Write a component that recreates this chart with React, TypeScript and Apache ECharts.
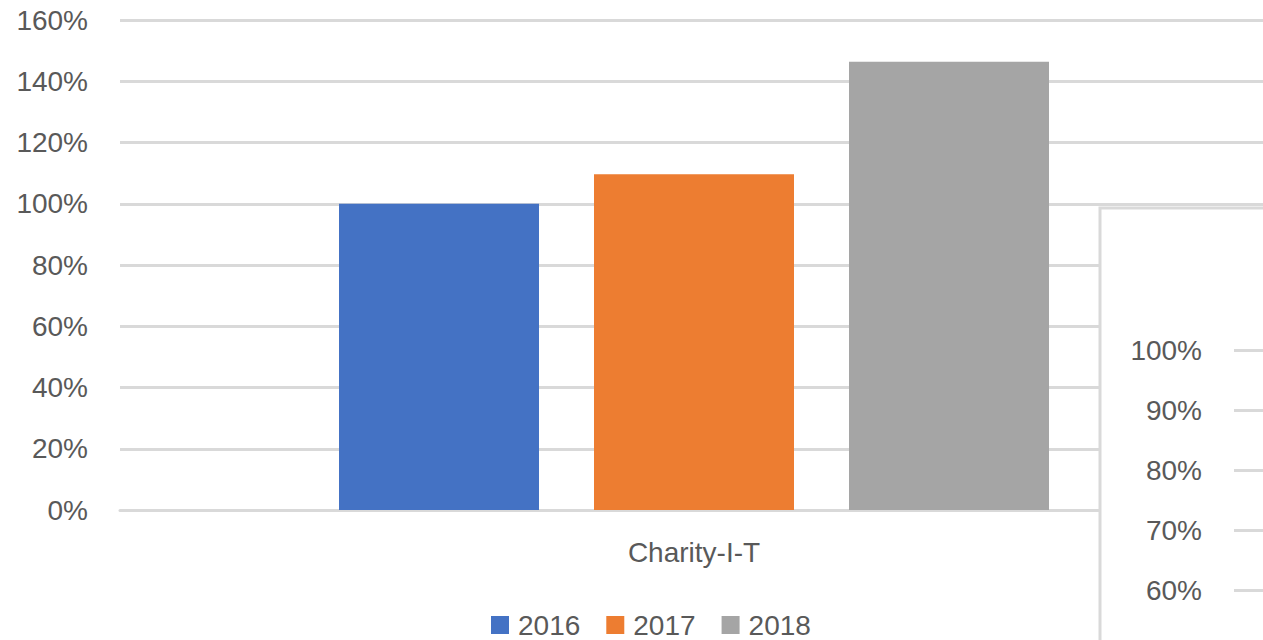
import React, { useEffect, useRef } from "react";
import * as echarts from "echarts";

const categories = ["Charity-I-T"];
const seriesNames = ["2016", "2017", "2018"];
const seriesValues = [100, 109.6, 146.4];
const seriesColors = ["#4472C4", "#ED7D31", "#A5A5A5"];
const insetCategories = [""];

const FONT = "Liberation Sans";
const TEXT = "#595959";
const GRIDC = "#d9d9d9";

export default function App() {
  const ref = useRef<HTMLDivElement>(null);
  useEffect(() => {
    if (!ref.current) return;
    const chart = echarts.init(ref.current, undefined, { renderer: "svg" });
    chart.setOption({
      animation: false,
      backgroundColor: "#ffffff",
      textStyle: { fontFamily: FONT },
      legend: {
        data: seriesNames,
        left: 486,
        top: 606,
        icon: "rect",
        itemWidth: 18,
        itemHeight: 18,
        itemGap: 26,
        textStyle: { fontFamily: FONT, fontSize: 28, color: TEXT, padding: [0, 0, 0, 4] },
      },
      grid: [
        { left: 120, top: 20, width: 1148, height: 490 },
        { left: 1234, top: 350, width: 200, height: 600 },
      ],
      xAxis: [
        {
          type: "category",
          gridIndex: 0,
          data: categories,
          axisLine: { show: true, lineStyle: { color: GRIDC, width: 3 } },
          axisTick: { show: false },
          axisLabel: { fontFamily: FONT, fontSize: 28, color: TEXT, margin: 28 },
        },
        {
          type: "category",
          gridIndex: 1,
          data: insetCategories,
          axisLine: { show: false },
          axisTick: { show: false },
          axisLabel: { show: false },
        },
      ],
      yAxis: [
        {
          type: "value",
          gridIndex: 0,
          min: 0,
          max: 160,
          interval: 20,
          axisLine: { show: false },
          axisTick: { show: false },
          axisLabel: { formatter: "{value}%", fontFamily: FONT, fontSize: 28, color: TEXT, margin: 32 },
          splitLine: { lineStyle: { color: GRIDC, width: 3 } },
        },
        {
          type: "value",
          gridIndex: 1,
          min: 0,
          max: 100,
          interval: 10,
          z: 10,
          axisLine: { show: false },
          axisTick: { show: false },
          axisLabel: { formatter: "{value}%", fontFamily: FONT, fontSize: 28, color: TEXT, margin: 32 },
          splitLine: { lineStyle: { color: GRIDC, width: 3 } },
        },
      ],
      graphic: {
        elements: [
          {
            type: "rect",
            z: 5,
            shape: { x: 1100, y: 208, width: 300, height: 800 },
            style: { fill: "#ffffff", stroke: GRIDC, lineWidth: 3 },
          },
        ],
      },
      series: seriesNames.map((name, i) => ({
        name,
        type: "bar",
        xAxisIndex: 0,
        yAxisIndex: 0,
        data: [seriesValues[i]],
        barWidth: 200,
        barGap: "27.5%",
        itemStyle: { color: seriesColors[i] },
      })),
    });
    return () => chart.dispose();
  }, []);
  return (
    <div
      style={{
        position: "absolute",
        left: 0,
        top: 0,
        width: 1263,
        height: 640,
        overflow: "hidden",
        background: "#ffffff",
      }}
    >
      <div ref={ref} style={{ width: 1320, height: 1000 }} />
    </div>
  );
}
